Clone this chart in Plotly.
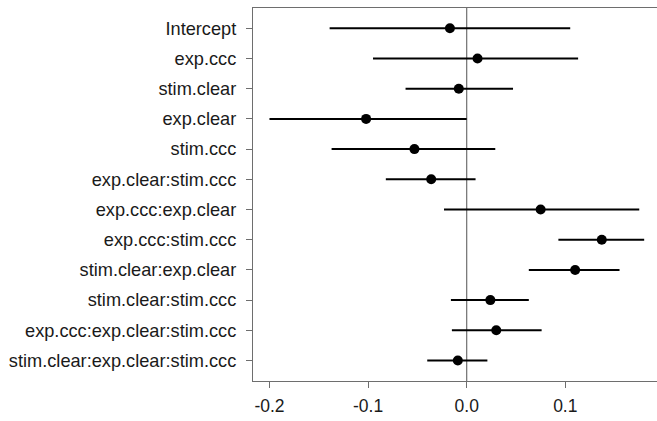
import plotly.graph_objects as go

terms = ["Intercept", "exp.ccc", "stim.clear", "exp.clear", "stim.ccc",
         "exp.clear:stim.ccc", "exp.ccc:exp.clear", "exp.ccc:stim.ccc",
         "stim.clear:exp.clear", "stim.clear:stim.ccc",
         "exp.ccc:exp.clear:stim.ccc", "stim.clear:exp.clear:stim.ccc"]
estimate = [-0.017, 0.011, -0.008, -0.102, -0.053, -0.036, 0.075, 0.137,
            0.110, 0.024, 0.030, -0.009]
lower = [-0.139, -0.095, -0.062, -0.200, -0.137, -0.082, -0.023, 0.093,
         0.063, -0.016, -0.015, -0.040]
upper = [0.105, 0.113, 0.047, 0.000, 0.029, 0.009, 0.175, 0.180,
         0.155, 0.063, 0.076, 0.021]
x_ticks = [-0.2, -0.1, 0.0, 0.1]
x_tick_labels = ["-0.2", "-0.1", "0.0", "0.1"]

rows = list(range(1, len(terms) + 1))
FONT = "Liberation Sans, Arial, sans-serif"
AX = "#6e6e6e"

fig = go.Figure()
fig.add_trace(go.Scatter(
    x=estimate, y=rows, mode="markers",
    marker=dict(color="black", size=10),
    error_x=dict(type="data", symmetric=False,
                 array=[u - e for u, e in zip(upper, estimate)],
                 arrayminus=[e - l for e, l in zip(estimate, lower)],
                 color="black", thickness=2, width=0),
    showlegend=False, hoverinfo="skip"))

fig.add_vline(x=0, line=dict(color=AX, width=1.2), layer="below")

fig.update_layout(
    width=657, height=421,
    margin=dict(l=253, r=0, t=8, b=40),
    paper_bgcolor="white", plot_bgcolor="white",
    font=dict(family=FONT, color="#1a1a1a"),
    xaxis=dict(range=[-0.2167, 0.193], tickvals=x_ticks, ticktext=x_tick_labels,
               showgrid=False, zeroline=False, showline=True, linecolor=AX,
               linewidth=1.2, mirror=True, ticks="outside", ticklen=6,
               tickcolor=AX, tickwidth=1.2, tickfont=dict(size=17.5, family=FONT),
               ticklabelstandoff=3),
    yaxis=dict(range=[12.678, 0.328], tickvals=rows, ticktext=terms,
               showgrid=False, zeroline=False, showline=True, linecolor=AX,
               linewidth=1.2, ticks="outside", ticklen=6, tickcolor=AX,
               tickwidth=1.2, tickfont=dict(size=18.2, family=FONT),
               ticklabelstandoff=6),
)

fig.write_html("out.html")
